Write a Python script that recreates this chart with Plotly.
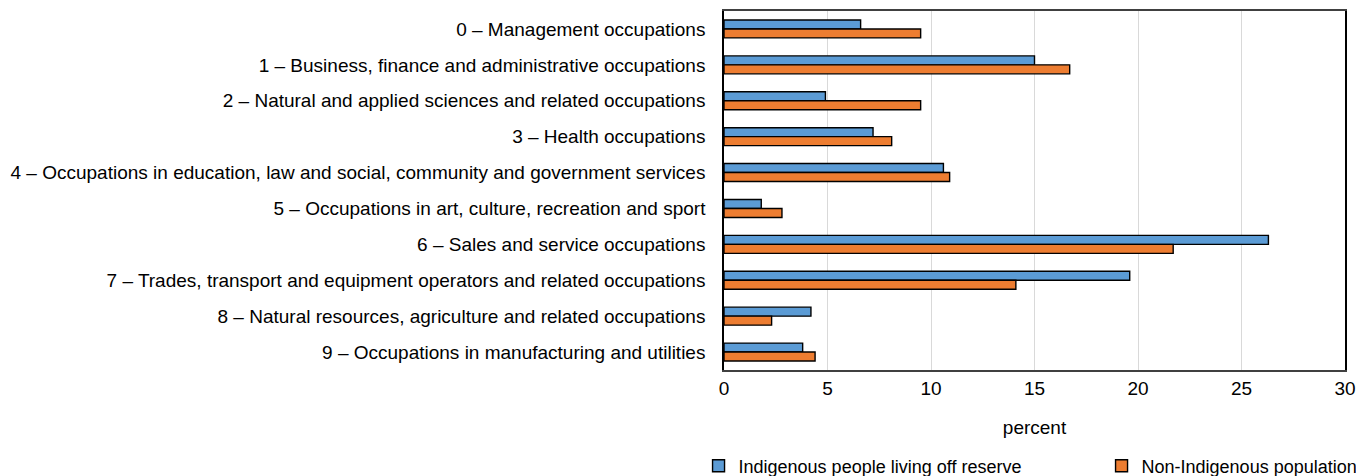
import plotly.graph_objects as go

categories = [
    "0 – Management occupations",
    "1 – Business, finance and administrative occupations",
    "2 – Natural and applied sciences and related occupations",
    "3 – Health occupations",
    "4 – Occupations in education, law and social, community and government services",
    "5 – Occupations in art, culture, recreation and sport",
    "6 – Sales and service occupations",
    "7 – Trades, transport and equipment operators and related occupations",
    "8 – Natural resources, agriculture and related occupations",
    "9 – Occupations in manufacturing and utilities",
]
indigenous_off_reserve = [6.6, 15.0, 4.9, 7.2, 10.6, 1.8, 26.3, 19.6, 4.2, 3.8]
non_indigenous = [9.5, 16.7, 9.5, 8.1, 10.9, 2.8, 21.7, 14.1, 2.3, 4.4]
series_names = ["Indigenous people living off reserve", "Non-Indigenous population"]
x_ticks = [0, 5, 10, 15, 20, 25, 30]

FONT = "Liberation Sans Narrow, Arial Narrow, Liberation Sans, Arial, sans-serif"
FS = 19

fig = go.Figure()
fig.add_trace(go.Bar(
    y=categories, x=indigenous_off_reserve, orientation="h", name=series_names[0],
    marker=dict(color="#5B9BD5", line=dict(color="#000000", width=1.4)),
))
fig.add_trace(go.Bar(
    y=categories, x=non_indigenous, orientation="h", name=series_names[1],
    marker=dict(color="#ED7D31", line=dict(color="#000000", width=1.4)),
))

plot_w = 1356 - 724 - 11
plot_h = 476 - 11 - 106
fig.update_layout(
    width=1356, height=476,
    margin=dict(l=724, r=11, t=11, b=106, autoexpand=False),
    barmode="group", bargap=0.5, bargroupgap=0,
    plot_bgcolor="white", paper_bgcolor="white",
    font=dict(family=FONT, size=FS, color="#000000"),
    showlegend=True,
    legend=dict(
        orientation="h", x=-0.012 - 18 / plot_w, xanchor="left",
        y=-(466 - 370) / plot_h, yanchor="middle",
        entrywidth=358, entrywidthmode="pixels",
        font=dict(family=FONT, size=18), itemwidth=30, tracegroupgap=0,
    ),
)
fig.update_xaxes(
    range=[0, 30], tickvals=x_ticks, ticktext=[str(v) for v in x_ticks],
    showgrid=True, gridcolor="#D9D9D9", gridwidth=1,
    showline=True, linecolor="#404040", linewidth=1.5, mirror=True,
    ticks="", zeroline=False,
    title=dict(text="percent", standoff=23, font=dict(family=FONT, size=FS)),
)
fig.update_yaxes(
    autorange="reversed", showgrid=False,
    showline=True, linecolor="#000000", linewidth=1.5, mirror=True,
    ticks="", ticklabelstandoff=13,
)

fig.write_html(
    "out.html",
    config={"displayModeBar": False},
    post_script="document.body.style.margin='0';document.body.style.padding='0';",
)
